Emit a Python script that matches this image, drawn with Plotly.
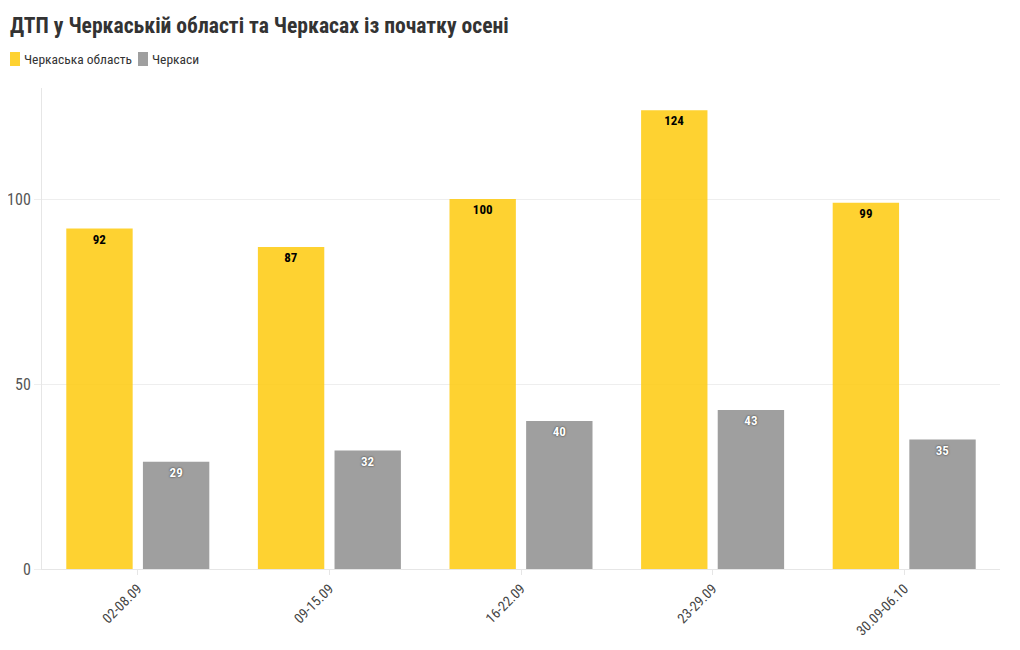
import plotly.graph_objects as go

categories = ["02-08.09", "09-15.09", "16-22.09", "23-29.09", "30.09-06.10"]
oblast = [92, 87, 100, 124, 99]
city = [29, 32, 40, 43, 35]
series_names = ["Черкаська область", "Черкаси"]
series_colors = ["rgba(254,204,20,0.88)", "rgba(142,142,142,0.85)"]
title_text = "ДТП у Черкаській області та Черкасах із початку осені"

FONT = "Roboto Condensed, Liberation Sans Narrow, Roboto, sans-serif"

# Page has an 8px body margin; figure is sized/positioned to compensate.
W, H = 1004, 634
OFF = 8
L, R, T, B = 42 - OFF, W - (1000 - OFF), 88 - OFF, H - (569 - OFF)
PW, PH = W - L - R, H - T - B


def px_x(sx):
    return (sx - OFF - L) / PW


def px_y(sy):
    return (H - B - (sy - OFF)) / PH


fig = go.Figure()
fig.add_trace(go.Bar(
    x=categories, y=oblast, name=series_names[0],
    marker=dict(color=series_colors[0], line=dict(width=0)),
    text=oblast, textposition="inside", insidetextanchor="end",
    textfont=dict(family=FONT, size=13, color="#000000", weight="bold"),
    textangle=0,
))
fig.add_trace(go.Bar(
    x=categories, y=city, name=series_names[1],
    marker=dict(color=series_colors[1], line=dict(width=0)),
    text=city, textposition="inside", insidetextanchor="end",
    textfont=dict(family=FONT, size=13, color="#ffffff", weight="bold",
                  shadow="0px 0px 2px #222"),
    textangle=0,
))

# manual compact legend
shapes = []
annotations = []
legend_items = [(10, 22), (138, 150)]
for (sx, tx), name, col in zip(legend_items, series_names, series_colors):
    shapes.append(dict(type="rect", xref="paper", yref="paper",
                       x0=px_x(sx), x1=px_x(sx + 10), y0=px_y(66), y1=px_y(52),
                       fillcolor=col, line=dict(width=0), layer="above"))
    annotations.append(dict(text=name, xref="paper", yref="paper",
                            x=px_x(tx), y=px_y(59), xanchor="left", yanchor="middle",
                            showarrow=False,
                            font=dict(family=FONT, size=13.5, color="#333333")))

fig.update_layout(
    width=W, height=H,
    font=dict(family=FONT, color="#333333"),
    paper_bgcolor="white", plot_bgcolor="white",
    margin=dict(l=L, r=R, t=T, b=B, autoexpand=False),
    barmode="group", bargap=0.2, bargroupgap=0.134,
    title=dict(text="<b>" + title_text + "</b>", x=(10 - OFF) / W, xanchor="left", xref="container",
               y=1 - (25 - OFF) / H, yanchor="middle", yref="container",
               font=dict(family=FONT, size=21.6, color="#333333")),
    showlegend=False,
    shapes=shapes,
    annotations=annotations,
    uniformtext=dict(minsize=8, mode="show"),
)
fig.update_xaxes(
    tickangle=-45, showline=True, linecolor="#e6e6e6", linewidth=1,
    ticks="outside", ticklen=5, tickcolor="#e6e6e6", automargin=False,
    tickfont=dict(family=FONT, size=14, color="#444444"),
    showgrid=False,
)
fig.update_yaxes(
    range=[0, 130], tickvals=[0, 50, 100], showgrid=True, gridcolor="#eeeeee",
    showline=True, linecolor="#e6e6e6", linewidth=1, zeroline=False, automargin=False,
    ticks="outside", ticklen=7, tickcolor="#eeeeee",
    tickfont=dict(family=FONT, size=16, color="#555555"),
)

fig.write_html("out.html")
